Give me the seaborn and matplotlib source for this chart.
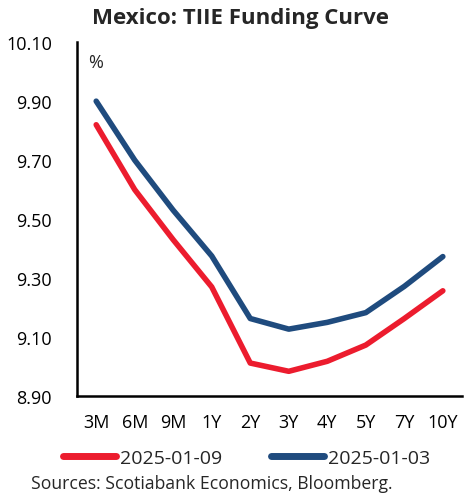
import matplotlib
matplotlib.use("Agg")
import matplotlib.pyplot as plt
import seaborn as sns
import pandas as pd
import numpy as np
from matplotlib.ticker import FixedLocator

tenors = ["3M", "6M", "9M", "1Y", "2Y", "3Y", "4Y", "5Y", "7Y", "10Y"]
curve_0109 = [9.82, 9.60, 9.43, 9.27, 9.012, 8.984, 9.018, 9.073, 9.163, 9.257]
curve_0103 = [9.90, 9.70, 9.53, 9.375, 9.163, 9.127, 9.150, 9.183, 9.272, 9.373]
series_names = ["2025-01-09", "2025-01-03"]
colors = ["#EC1C2E", "#1F4B7E"]
yticks = [8.90, 9.10, 9.30, 9.50, 9.70, 9.90, 10.10]

df = pd.DataFrame({
    "tenor": tenors * 2,
    "value": curve_0109 + curve_0103,
    "series": [series_names[0]] * len(tenors) + [series_names[1]] * len(tenors),
})

sns.set_style("white")
plt.rcParams["font.family"] = ["Open Sans", "DejaVu Sans"]

fig = plt.figure(figsize=(4.72, 5.02), dpi=100)
ax = fig.add_axes([0.163, 0.209, 0.816, 0.705])

sns.lineplot(data=df, x="tenor", y="value", hue="series", palette=colors,
             linewidth=4, sort=False, ax=ax, legend=True)

ax.set_xlim(-0.5, len(tenors) - 0.5)
ax.set_ylim(8.90, 10.10)
ax.set_yticks(yticks)
ax.set_yticklabels([f"{v:.2f}" for v in yticks], fontsize=13)
ax.set_xticks(range(len(tenors)))
ax.set_xticklabels(tenors, fontsize=13)
ax.xaxis.set_minor_locator(FixedLocator(np.arange(-0.5, len(tenors), 1.0)))
ax.tick_params(axis="x", which="major", length=0, pad=12, colors="black")
ax.tick_params(axis="x", which="minor", length=6, width=1.8, direction="out", color="black")
ax.tick_params(axis="y", length=6, width=1.8, direction="in", pad=18, colors="black")
ax.set_xlabel("")
ax.set_ylabel("")
for s in ["top", "right"]:
    ax.spines[s].set_visible(False)
for s in ["left", "bottom"]:
    ax.spines[s].set_color("black")
    ax.spines[s].set_linewidth(1.8)

ax.text(0.03, 0.97, "%", transform=ax.transAxes, fontsize=13, va="top", ha="left")

leg = ax.legend(loc="center", bbox_to_anchor=(0.44, -0.175), ncol=2,
                frameon=False, fontsize=14, handlelength=2.75, handletextpad=0.2,
                columnspacing=2.5)
for h in leg.get_lines():
    h.set_linewidth(5)
    h.set_solid_capstyle("round")

fig.text(0.51, 0.963, "Mexico: TIIE Funding Curve", ha="center", va="center",
         fontsize=16, fontweight="bold")
fig.text(0.066, 0.018, "Sources: Scotiabank Economics, Bloomberg.", ha="left",
         va="bottom", fontsize=12.7)

fig.savefig("out.png", dpi=100)
